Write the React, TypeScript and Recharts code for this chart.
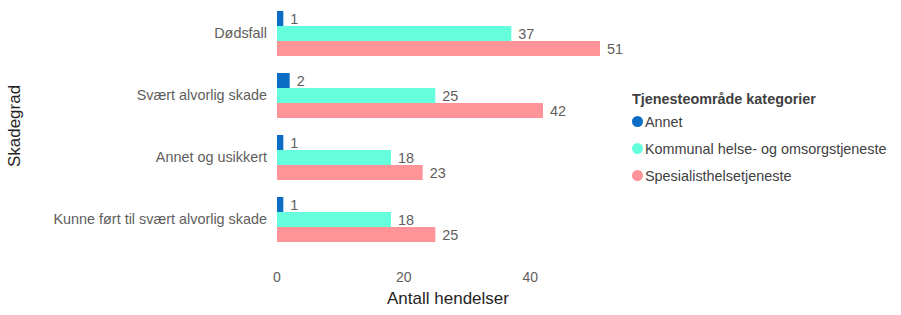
import { BarChart, Bar, XAxis, YAxis, LabelList } from 'recharts';

const CATEGORIES = [
  'Dødsfall',
  'Svært alvorlig skade',
  'Annet og usikkert',
  'Kunne ført til svært alvorlig skade',
];
const ANNET = [1, 2, 1, 1];
const KOMMUNAL = [37, 25, 18, 18];
const SPESIALIST = [51, 42, 23, 25];
const X_TICKS = [0, 20, 40];

const SERIES = [
  { key: 'annet', name: 'Annet', color: '#0C6DC4', values: ANNET },
  { key: 'kommunal', name: 'Kommunal helse- og omsorgstjeneste', color: '#66FFDE', values: KOMMUNAL },
  { key: 'spesialist', name: 'Spesialisthelsetjeneste', color: '#FE9398', values: SPESIALIST },
];

const data = CATEGORIES.map((c, i) => ({
  name: c,
  annet: ANNET[i],
  kommunal: KOMMUNAL[i],
  spesialist: SPESIALIST[i],
}));

const FONT = '"Segoe UI", "Liberation Sans", Arial, sans-serif';

function LegendBox() {
  return (
    <div
      style={{
        position: 'absolute',
        left: 632,
        top: 91,
        fontFamily: FONT,
        color: '#404040',
        lineHeight: 'normal',
      }}
    >
      <div style={{ fontWeight: 'bold', fontSize: 14.4, height: 17 }}>Tjenesteområde kategorier</div>
      {SERIES.map((s) => (
        <div key={s.key} style={{ display: 'flex', alignItems: 'center', fontSize: 14.4, height: 27 }}>
          <span
            style={{
              display: 'inline-block',
              width: 11,
              height: 11,
              borderRadius: 6,
              background: s.color,
              marginRight: 2,
            }}
          />
          {s.name}
        </div>
      ))}
    </div>
  );
}

export default function App() {
  return (
    <div style={{ position: 'absolute', left: 0, top: 0, width: 901, height: 315, background: '#fff' }}>
      <BarChart
        width={901}
        height={315}
        data={data}
        layout="vertical"
        margin={{ top: 2, right: 282, bottom: 11, left: 0 }}
        barGap={0}
        style={{ fontFamily: FONT }}
      >
        <XAxis
          type="number"
          domain={[0, 54]}
          ticks={X_TICKS}
          axisLine={false}
          tickLine={false}
          tickMargin={16}
          height={54}
          tick={{ fill: '#605E5C', fontSize: 14 }}
          label={{ value: 'Antall hendelser', position: 'insideBottom', offset: 0, fill: '#252423', fontSize: 17 }}
        />
        <YAxis
          type="category"
          dataKey="name"
          width={277}
          axisLine={false}
          tickLine={false}
          tickMargin={4}
          tick={{ fill: '#605E5C', fontSize: 14.4 }}
          label={{
            value: 'Skadegrad',
            angle: -90,
            position: 'insideLeft',
            offset: 14,
            fill: '#252423',
            fontSize: 17,
            style: { textAnchor: 'middle' },
          }}
        />
        {SERIES.map((s) => (
          <Bar key={s.key} dataKey={s.key} name={s.name} fill={s.color} barSize={15} isAnimationActive={false}>
            <LabelList dataKey={s.key} position="right" offset={7} fill="#605E5C" fontSize={14.4} />
          </Bar>
        ))}
      </BarChart>
      <LegendBox />
    </div>
  );
}
